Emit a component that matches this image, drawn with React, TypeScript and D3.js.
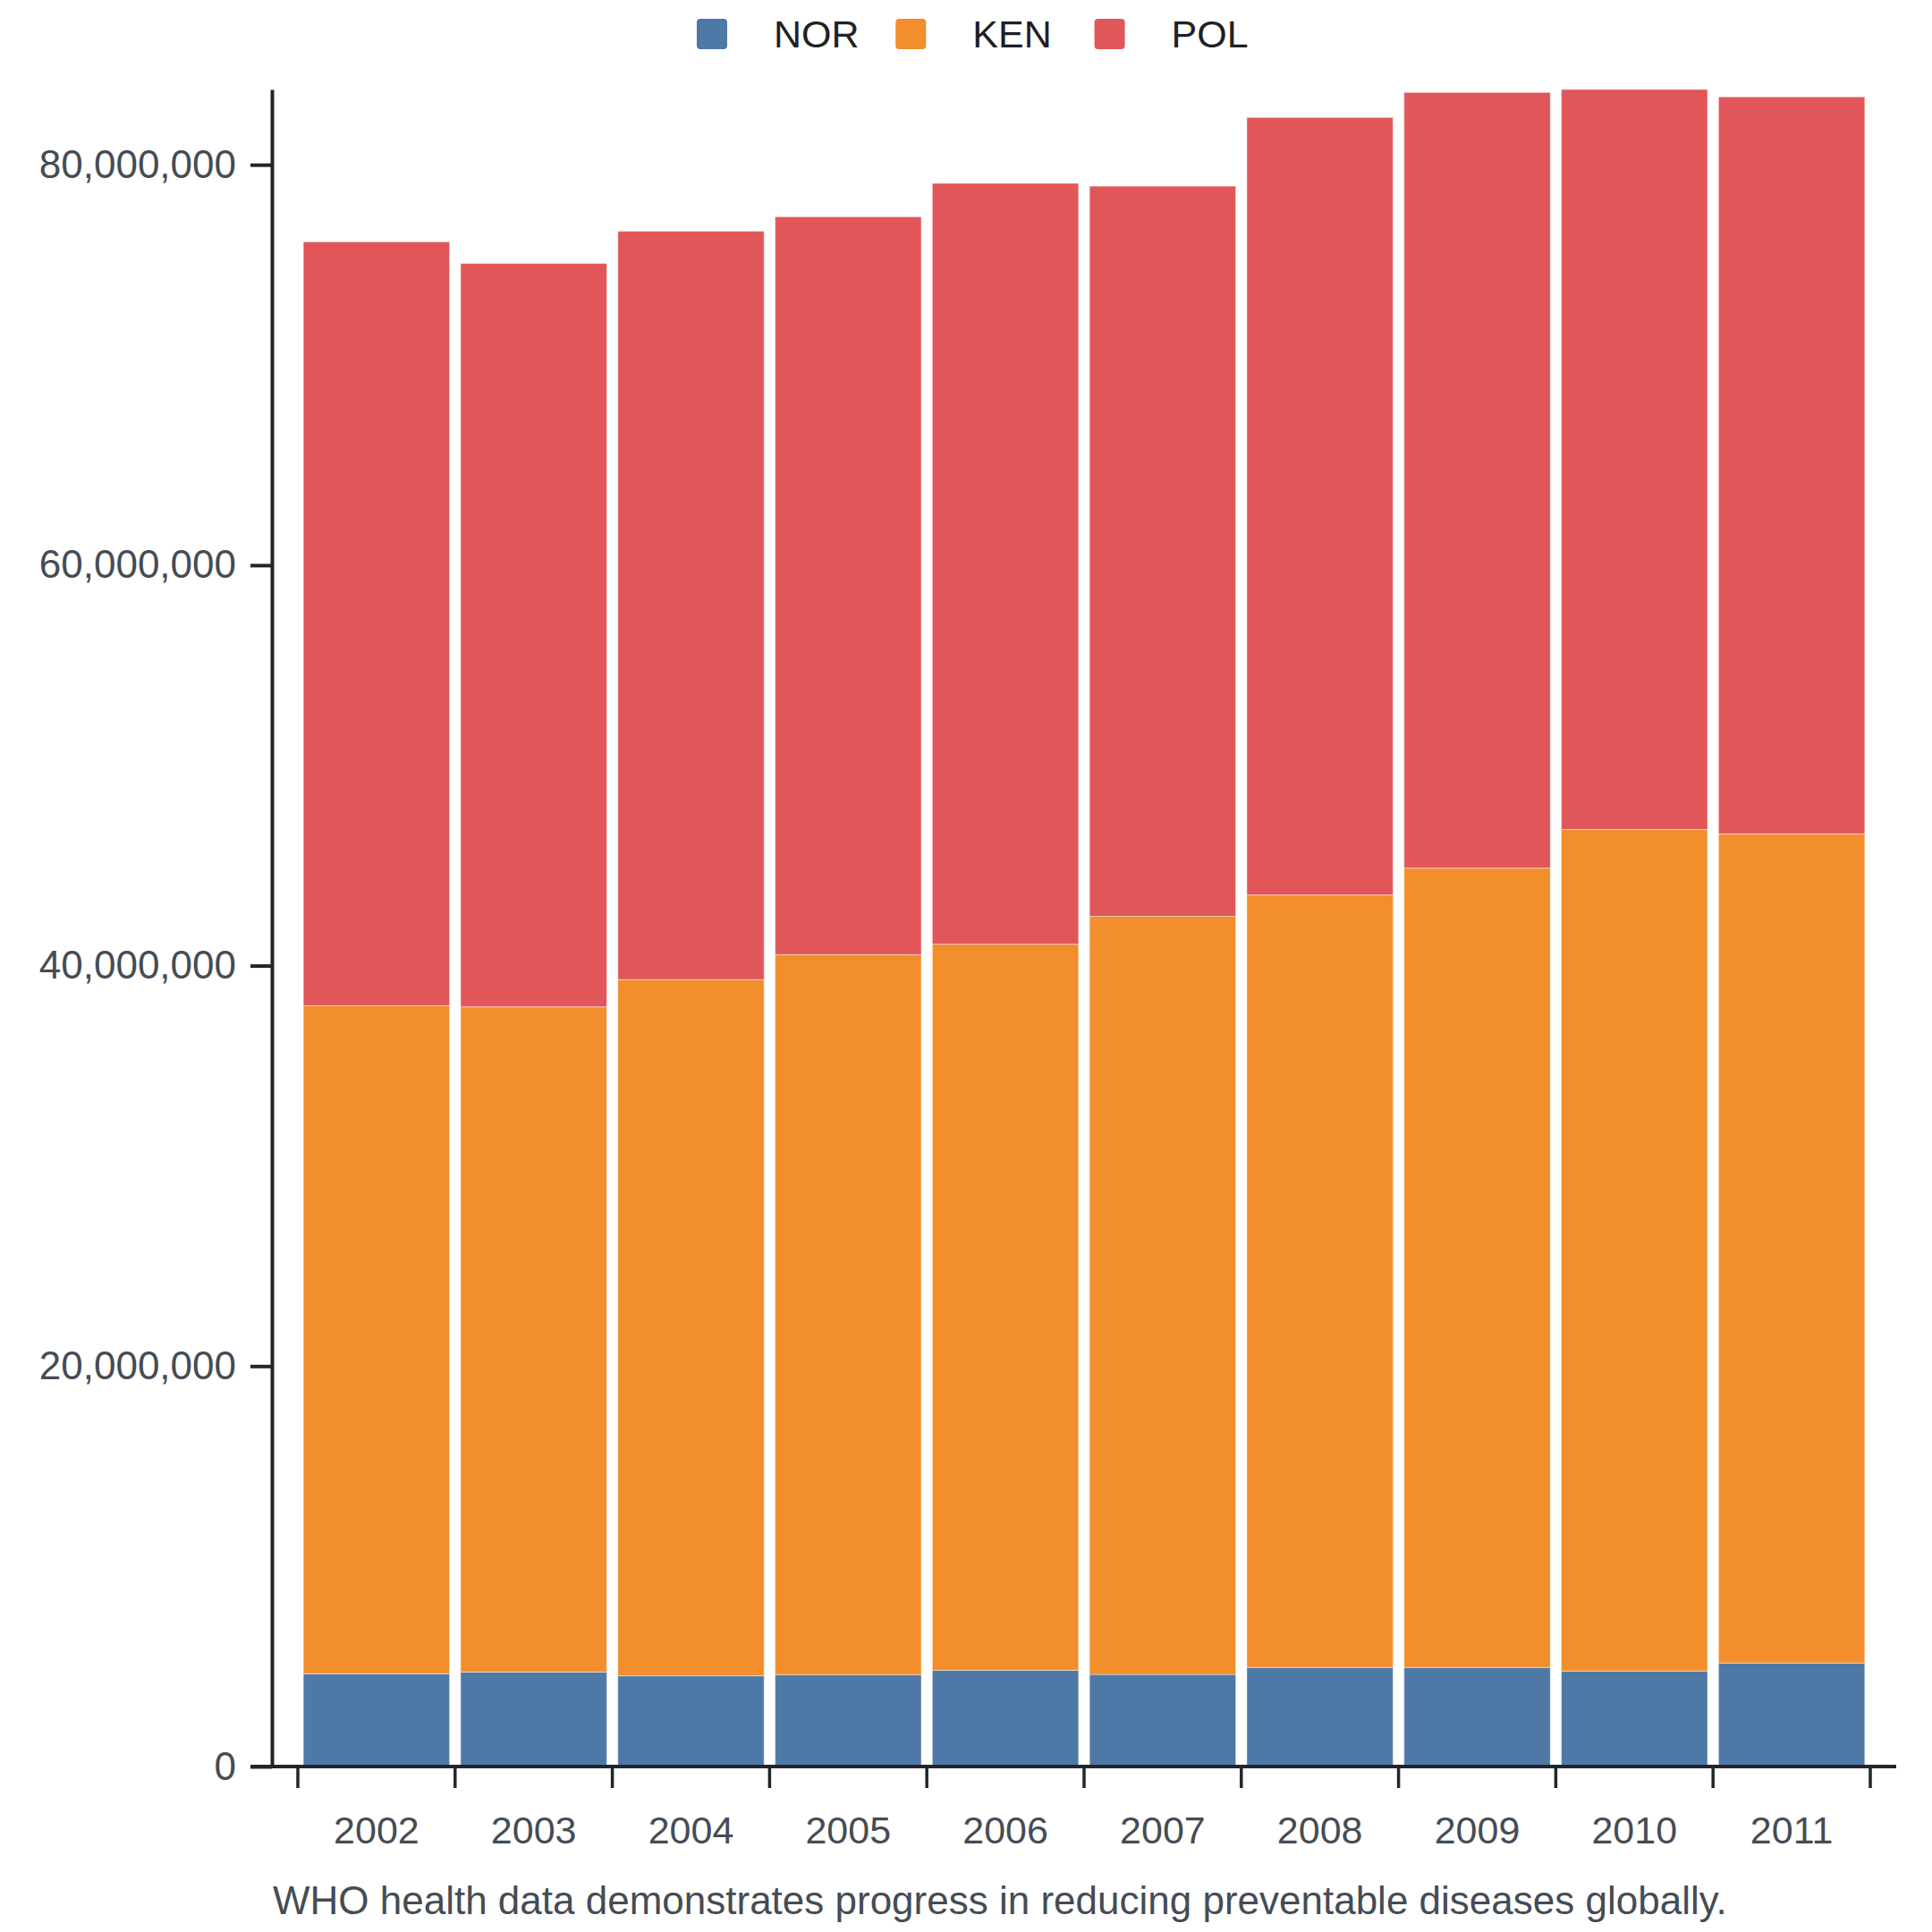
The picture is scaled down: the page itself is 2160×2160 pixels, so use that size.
import { useEffect, useRef } from 'react';
import * as d3 from 'd3';

const years = ['2002', '2003', '2004', '2005', '2006', '2007', '2008', '2009', '2010', '2011'];
const countries = ['NOR', 'KEN', 'POL'];

const norValues = [4630000, 4720000, 4530000, 4590000, 4810000, 4600000, 4950000, 4950000, 4770000, 5170000];
const kenValues = [33370000, 33220000, 34770000, 35960000, 36260000, 37860000, 38580000, 39920000, 42030000, 41410000];
const polValues = [38150000, 37130000, 37380000, 36850000, 38000000, 36470000, 38830000, 38740000, 36960000, 36810000];

const yTicks = [0, 20000000, 40000000, 60000000, 80000000];

const caption = 'WHO health data demonstrates progress in reducing preventable diseases globally.';

const colors: Record<string, string> = {
  NOR: '#4e79a7',
  KEN: '#f28e2b',
  POL: '#e15759',
};

const FONT = '"Liberation Sans", Arial, Helvetica, sans-serif';
const AXIS = '#222529';

export default function App() {
  const svgRef = useRef<SVGSVGElement>(null);
  const width = 2160;
  const height = 2160;

  useEffect(() => {
    if (!svgRef.current) return;
    const svg = d3.select(svgRef.current);
    svg.selectAll('*').remove();

    const rows = years.map((year, i) => ({
      year,
      NOR: norValues[i],
      KEN: kenValues[i],
      POL: polValues[i],
    }));

    const stacked = d3.stack<any>().keys(countries)(rows);
    const maxTotal = d3.max(rows, d => d.NOR + d.KEN + d.POL) as number;

    const left = 304;
    const top = 100;
    const bottom = 1975;

    const x = d3.scaleBand()
      .domain(years)
      .range([333, 2091])
      .paddingInner(0.07)
      .paddingOuter(0.035);

    const y = d3.scaleLinear()
      .domain([0, maxTotal])
      .range([bottom, top]);

    // Bars
    stacked.forEach(layer => {
      svg.append('g')
        .attr('fill', colors[layer.key])
        .selectAll('rect')
        .data(layer)
        .join('rect')
        .attr('x', d => x(d.data.year) as number)
        .attr('y', d => y(d[1]))
        .attr('width', x.bandwidth())
        .attr('height', d => y(d[0]) - y(d[1]))
        .attr('stroke', '#ffffff')
        .attr('stroke-width', 1)
        .attr('stroke-opacity', 0.45);
    });

    // Y axis
    const yAxis = svg.append('g')
      .attr('transform', `translate(${left},0)`)
      .call(d3.axisLeft(y)
        .tickValues(yTicks)
        .tickFormat(d3.format(',') as any)
        .tickSize(24)
        .tickSizeOuter(0)
        .tickPadding(16));
    yAxis.select('.domain').attr('stroke', AXIS).attr('stroke-width', 4);
    yAxis.selectAll('.tick line').attr('stroke', AXIS).attr('stroke-width', 4);
    yAxis.selectAll('.tick text')
      .attr('font-family', FONT)
      .attr('font-size', 44)
      .attr('fill', '#454c55');

    // X axis: domain line, boundary ticks, centred labels
    const step = x.step();
    const boundaries = years.map(yr => (x(yr) as number) - step * x.paddingInner() / 2)
      .concat([(x(years[years.length - 1]) as number) + x.bandwidth() + step * x.paddingInner() / 2]);

    const xAxis = svg.append('g');
    xAxis.append('line')
      .attr('x1', 280)
      .attr('x2', 2120)
      .attr('y1', bottom)
      .attr('y2', bottom)
      .attr('stroke', AXIS)
      .attr('stroke-width', 4);

    xAxis.selectAll('.xtick')
      .data(boundaries)
      .join('line')
      .attr('class', 'xtick')
      .attr('x1', d => d)
      .attr('x2', d => d)
      .attr('y1', bottom)
      .attr('y2', bottom + 24)
      .attr('stroke', AXIS)
      .attr('stroke-width', 3.5);

    xAxis.selectAll('.xlabel')
      .data(years)
      .join('text')
      .attr('class', 'xlabel')
      .attr('x', d => (x(d) as number) + x.bandwidth() / 2)
      .attr('y', 2061)
      .attr('text-anchor', 'middle')
      .attr('font-family', FONT)
      .attr('font-size', 43)
      .attr('fill', '#454c55')
      .text(d => d);

    // Legend
    const legend = svg.append('g').attr('transform', 'translate(779,21)');
    countries.forEach((c, i) => {
      const item = legend.append('g').attr('transform', `translate(${i * 222.3},0)`);
      item.append('rect')
        .attr('width', 34)
        .attr('height', 34)
        .attr('rx', 4)
        .attr('fill', colors[c]);
      item.append('text')
        .attr('x', 86)
        .attr('y', 32)
        .attr('font-family', FONT)
        .attr('font-size', 43)
        .attr('fill', '#1f2124')
        .text(c);
    });

    // Caption
    svg.append('text')
      .attr('x', 305)
      .attr('y', 2140)
      .attr('font-family', FONT)
      .attr('font-size', 44)
      .attr('fill', '#454c55')
      .text(caption);
  }, []);

  return (
    <svg
      ref={svgRef}
      width={width}
      height={height}
      style={{ position: 'absolute', left: 0, top: 0, background: '#ffffff', display: 'block' }}
    />
  );
}
